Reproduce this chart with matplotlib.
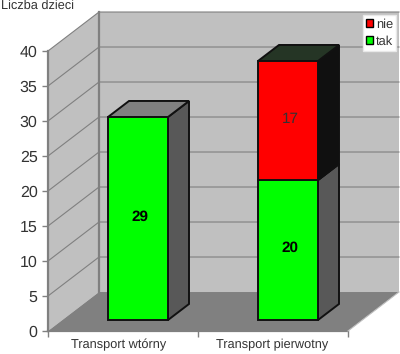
import matplotlib
matplotlib.use("Agg")
import matplotlib.pyplot as plt
from matplotlib.patches import Patch, Polygon

plt.rcParams["font.family"] = ["Liberation Sans", "DejaVu Sans"]
plt.rcParams["text.hinting"] = "no_hinting"

categories = ["Transport wtórny", "Transport pierwotny"]
tak = [29, 20]
nie = [0, 17]
labels_tak = ["29", "20"]
labels_nie = ["", "17"]
y_ticks = [0, 5, 10, 15, 20, 25, 30, 35, 40]

GRAY = "#808080"
WALL = "#c0c0c0"
TXT = "#333333"

# fake 3d: shift in data units (x = category slots, y = values)
DX, DY = 0.34, 5.57
BAR_W = 0.4
BAR_OFF_X, BAR_OFF_Y = 0.1, 1.57
BAR_DX, BAR_DY = 0.14, 2.29

W, H = 400, 354
fig = plt.figure(figsize=(W / 100, H / 100), dpi=100)
ax = fig.add_axes([48 / W, 1 - 331 / H, 300 / W, 280 / H])
ax.set_xlim(0, 2)
ax.set_ylim(0, 40)
for s in ax.spines.values():
    s.set_visible(False)
ax.patch.set_visible(False)


def poly(pts, fc, ec="none", lw=0, z=1):
    ax.add_patch(Polygon(pts, closed=True, facecolor=fc, edgecolor=ec, linewidth=lw,
                         zorder=z, clip_on=False, joinstyle="miter"))


# walls and floor
poly([(DX, DY), (2 + DX, DY), (2 + DX, 40 + DY), (DX, 40 + DY)], WALL)
poly([(0, 0), (DX, DY), (DX, 40 + DY), (0, 40)], WALL)
poly([(0, 0), (2, 0), (2 + DX, DY), (DX, DY)], GRAY)

for v in y_ticks[1:]:
    ax.plot([0, DX, 2 + DX], [v, v + DY, v + DY], color=GRAY, lw=0.8, zorder=2, clip_on=False)
ax.plot([DX, DX], [DY, 40 + DY], color=GRAY, lw=1.6, zorder=2, clip_on=False)
ax.plot([0, 0], [0, 40], color=GRAY, lw=1.6, zorder=2, clip_on=False)
ax.plot([0, 2], [0, 0], color=GRAY, lw=1.6, zorder=2, clip_on=False)
ax.plot([2, 2 + DX], [0, DY], color=WALL, lw=0.8, zorder=2, clip_on=False)


def box(i, low, high, front, side, top):
    x0 = i + 0.5 - BAR_W / 2 + BAR_OFF_X
    x1 = x0 + BAR_W
    y0 = low + BAR_OFF_Y
    y1 = high + BAR_OFF_Y
    poly([(x0, y0), (x1, y0), (x1, y1), (x0, y1)], front, "#111111", 1.4, 5)
    poly([(x1, y0), (x1 + BAR_DX, y0 + BAR_DY), (x1 + BAR_DX, y1 + BAR_DY), (x1, y1)], side, "#111111", 1.4, 4)
    poly([(x0, y1), (x1, y1), (x1 + BAR_DX, y1 + BAR_DY), (x0 + BAR_DX, y1 + BAR_DY)], top, "#111111", 1.4, 4)


for i in range(len(categories)):
    box(i, 0, tak[i], "#00ff00", "#585858", "#808080")
    if nie[i] > 0:
        box(i, tak[i], tak[i] + nie[i], "#ff0000", "#101010", "#253525")
    cx = i + 0.5 + BAR_OFF_X
    ax.text(cx + 0.015, tak[i] / 2 + BAR_OFF_Y + 0.25, labels_tak[i], ha="center", va="center",
            fontsize=11, fontweight="bold", color="black", zorder=6)
    if labels_nie[i]:
        ax.text(cx + 0.015, tak[i] + nie[i] / 2 + BAR_OFF_Y + 0.25, labels_nie[i], ha="center", va="center",
                fontsize=11, color=TXT, zorder=6)

ax.set_yticks(y_ticks)
ax.set_yticklabels([str(v) for v in y_ticks], fontsize=11.5, color=TXT)
ax.set_xticks([0, 1, 2])
ax.set_xticklabels([])
ax.tick_params(axis="both", color=GRAY, length=4.5, width=1, pad=3)
for i, c in enumerate(categories):
    ax.annotate(c, (i + 0.5, 0), xytext=(-3.5 if i == 0 else -0.5, -10), textcoords="offset points",
                ha="center", va="center", fontsize=9.2, color=TXT, annotation_clip=False)

fig.text(1 / W, 1 - 6 / H, "Liczba dzieci", fontsize=9.2, color=TXT, ha="left", va="center")

handles = [Patch(facecolor="#ff0000", edgecolor="black", linewidth=1),
           Patch(facecolor="#00ff00", edgecolor="black", linewidth=1)]
leg = fig.legend(handles, ["nie", "tak"], loc="upper left",
                 bbox_to_anchor=(363 / W, 1 - 15 / H), bbox_transform=fig.transFigure,
                 fontsize=9.3, frameon=True, fancybox=False, framealpha=1, edgecolor="#e8e8e8",
                 handlelength=0.55, handleheight=0.55, handletextpad=0.2, labelspacing=0.4,
                 borderpad=0.25, borderaxespad=0)
for t in leg.get_texts():
    t.set_color(TXT)

fig.savefig("out.png", dpi=100)
